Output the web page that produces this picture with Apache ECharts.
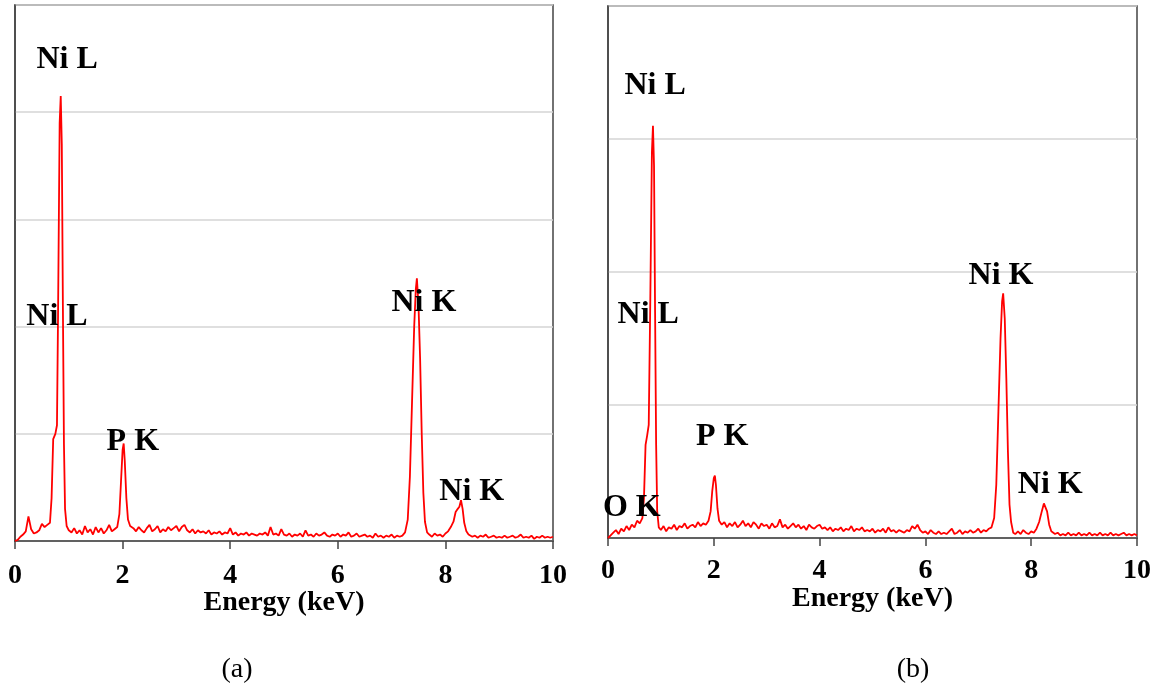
<!DOCTYPE html>
<html>
<head>
<meta charset="utf-8">
<title>EDS spectra</title>
<script src="https://cdn.jsdelivr.net/npm/echarts@6/dist/echarts.min.js"></script>
<style>
	html, body { margin: 0; padding: 0; background: #fff; }
	#chart { width: 1159px; height: 691px; }
</style>
</head>
<body>
<div id="chart"></div>
<script>
'use strict';
// x tick labels (keV)
var energyTicks = [0, 2, 4, 6, 8, 10];

// spectrum (a): [energy keV, counts in grid units]
var specA = [
	[0.00,0.00],[0.05,0.01],[0.10,0.04],[0.15,0.06],[0.20,0.09],[0.25,0.23],[0.30,0.11],[0.35,0.07],[0.40,0.08],[0.45,0.10],
	[0.50,0.16],[0.55,0.13],[0.60,0.15],[0.65,0.17],[0.68,0.40],[0.71,0.95],[0.75,1.00],[0.78,1.08],[0.80,2.10],[0.83,3.90],
	[0.85,4.15],[0.87,3.70],[0.89,2.20],[0.91,0.90],[0.93,0.30],[0.96,0.14],
	[1.00,0.10],[1.05,0.08],[1.10,0.12],[1.15,0.07],[1.20,0.10],[1.25,0.06],[1.30,0.14],[1.35,0.08],[1.40,0.11],[1.45,0.06],
	[1.50,0.13],[1.55,0.08],[1.60,0.12],[1.65,0.07],[1.70,0.10],[1.75,0.15],[1.80,0.09],[1.85,0.11],[1.90,0.13],[1.94,0.25],
	[1.97,0.55],[2.00,0.85],[2.02,0.91],[2.04,0.75],[2.07,0.40],[2.10,0.20],[2.14,0.14],
	[2.20,0.12],[2.25,0.09],[2.30,0.13],[2.35,0.10],[2.40,0.08],[2.45,0.12],[2.50,0.15],[2.55,0.09],[2.60,0.11],[2.65,0.14],
	[2.70,0.08],[2.75,0.11],[2.80,0.09],[2.85,0.13],[2.90,0.10],[2.95,0.12],[3.00,0.14],[3.05,0.09],[3.10,0.13],[3.15,0.15],
	[3.20,0.10],[3.25,0.08],[3.30,0.11],[3.35,0.07],[3.40,0.10],[3.45,0.08],[3.50,0.09],[3.55,0.07],[3.60,0.10],[3.65,0.06],
	[3.70,0.08],[3.75,0.07],[3.80,0.09],[3.85,0.06],[3.90,0.08],[3.95,0.07],[4.00,0.12],[4.05,0.06],[4.10,0.08],[4.15,0.05],
	[4.20,0.07],[4.25,0.06],[4.30,0.08],[4.35,0.05],[4.40,0.07],[4.45,0.06],[4.50,0.05],[4.55,0.07],[4.60,0.06],[4.65,0.08],
	[4.70,0.05],[4.75,0.13],[4.80,0.06],[4.85,0.07],[4.90,0.05],[4.95,0.11],[5.00,0.06],[5.05,0.05],[5.10,0.07],[5.15,0.04],
	[5.20,0.06],[5.25,0.05],[5.30,0.07],[5.35,0.04],[5.40,0.10],[5.45,0.05],[5.50,0.06],[5.55,0.04],[5.60,0.07],[5.65,0.05],
	[5.70,0.06],[5.75,0.08],[5.80,0.05],[5.85,0.04],[5.90,0.06],[5.95,0.05],[6.00,0.07],[6.05,0.04],[6.10,0.06],[6.15,0.05],
	[6.20,0.08],[6.25,0.04],[6.30,0.05],[6.35,0.07],[6.40,0.04],[6.45,0.05],[6.50,0.06],[6.55,0.04],[6.60,0.05],[6.65,0.03],
	[6.70,0.07],[6.75,0.04],[6.80,0.05],[6.85,0.03],[6.90,0.05],[6.95,0.04],[7.00,0.06],[7.05,0.03],[7.10,0.05],[7.15,0.04],
	[7.20,0.05],[7.25,0.08],[7.30,0.20],[7.34,0.60],[7.38,1.30],[7.42,2.00],[7.45,2.35],[7.47,2.45],[7.50,2.20],[7.53,1.70],
	[7.56,1.00],[7.59,0.45],[7.62,0.18],[7.66,0.08],[7.70,0.06],[7.75,0.04],[7.80,0.07],[7.85,0.05],[7.90,0.06],[7.95,0.04],
	[8.00,0.07],[8.05,0.09],[8.10,0.13],[8.15,0.18],[8.19,0.27],[8.23,0.30],[8.26,0.32],[8.29,0.38],[8.32,0.30],[8.35,0.17],
	[8.39,0.09],[8.43,0.06],[8.50,0.04],[8.55,0.05],[8.60,0.03],[8.65,0.05],[8.70,0.04],[8.75,0.06],[8.80,0.03],[8.85,0.04],
	[8.90,0.05],[8.95,0.03],[9.00,0.04],[9.05,0.03],[9.10,0.05],[9.15,0.03],[9.20,0.04],[9.25,0.05],[9.30,0.03],[9.35,0.04],
	[9.40,0.06],[9.45,0.03],[9.50,0.04],[9.55,0.03],[9.60,0.05],[9.65,0.02],[9.70,0.04],[9.75,0.03],[9.80,0.05],[9.85,0.03],
	[9.90,0.04],[9.95,0.03],[10.00,0.04]
];

// spectrum (b)
var specB = [
	[0.00,0.00],[0.05,0.02],[0.10,0.04],[0.15,0.06],[0.20,0.03],[0.25,0.07],[0.30,0.05],[0.35,0.09],[0.40,0.06],[0.45,0.10],
	[0.50,0.08],[0.55,0.13],[0.60,0.11],[0.65,0.15],[0.68,0.30],[0.71,0.70],[0.74,0.77],[0.77,0.85],[0.80,1.80],[0.83,2.90],
	[0.85,3.10],[0.87,2.80],[0.89,1.70],[0.91,0.70],[0.93,0.20],[0.96,0.08],
	[1.00,0.06],[1.05,0.09],[1.10,0.05],[1.15,0.08],[1.20,0.07],[1.25,0.10],[1.30,0.06],[1.35,0.09],[1.40,0.08],[1.45,0.11],
	[1.50,0.07],[1.55,0.09],[1.60,0.10],[1.65,0.08],[1.70,0.12],[1.75,0.09],[1.80,0.11],[1.85,0.10],[1.90,0.13],[1.94,0.20],
	[1.97,0.35],[2.00,0.45],[2.02,0.47],[2.04,0.40],[2.07,0.22],[2.10,0.13],[2.15,0.10],
	[2.20,0.12],[2.25,0.08],[2.30,0.11],[2.35,0.09],[2.40,0.12],[2.45,0.08],[2.50,0.10],[2.55,0.13],[2.60,0.09],[2.65,0.11],
	[2.70,0.08],[2.75,0.12],[2.80,0.10],[2.85,0.07],[2.90,0.11],[2.95,0.09],[3.00,0.10],[3.05,0.07],[3.10,0.11],[3.15,0.08],
	[3.20,0.09],[3.25,0.14],[3.30,0.08],[3.35,0.10],[3.40,0.07],[3.45,0.09],[3.50,0.11],[3.55,0.08],[3.60,0.10],[3.65,0.07],
	[3.70,0.09],[3.75,0.06],[3.80,0.10],[3.85,0.08],[3.90,0.07],[3.95,0.09],[4.00,0.10],[4.05,0.07],[4.10,0.08],[4.15,0.06],
	[4.20,0.08],[4.25,0.05],[4.30,0.07],[4.35,0.06],[4.40,0.08],[4.45,0.05],[4.50,0.07],[4.55,0.06],[4.60,0.09],[4.65,0.05],
	[4.70,0.07],[4.75,0.06],[4.80,0.08],[4.85,0.05],[4.90,0.06],[4.95,0.05],[5.00,0.07],[5.05,0.04],[5.10,0.06],[5.15,0.05],
	[5.20,0.07],[5.25,0.04],[5.30,0.08],[5.35,0.05],[5.40,0.06],[5.45,0.04],[5.50,0.06],[5.55,0.05],[5.60,0.04],[5.65,0.06],
	[5.70,0.05],[5.75,0.09],[5.80,0.07],[5.85,0.10],[5.90,0.06],[5.95,0.04],[6.00,0.05],[6.05,0.03],[6.10,0.06],[6.15,0.04],
	[6.20,0.03],[6.25,0.05],[6.30,0.03],[6.35,0.04],[6.40,0.03],[6.45,0.05],[6.50,0.07],[6.55,0.03],[6.60,0.04],[6.65,0.06],
	[6.70,0.03],[6.75,0.05],[6.80,0.04],[6.85,0.06],[6.90,0.04],[6.95,0.05],[7.00,0.07],[7.05,0.04],[7.10,0.06],[7.15,0.05],
	[7.20,0.07],[7.25,0.08],[7.30,0.15],[7.34,0.40],[7.38,0.95],[7.42,1.50],[7.45,1.78],[7.47,1.84],[7.50,1.65],[7.53,1.20],
	[7.56,0.65],[7.59,0.25],[7.62,0.12],[7.66,0.04],[7.70,0.03],[7.75,0.05],[7.80,0.03],[7.85,0.06],[7.90,0.04],[7.95,0.03],
	[8.00,0.05],[8.05,0.04],[8.10,0.07],[8.15,0.12],[8.20,0.20],[8.24,0.26],[8.27,0.25],[8.30,0.20],[8.34,0.10],[8.38,0.05],
	[8.45,0.03],[8.50,0.04],[8.55,0.02],[8.60,0.03],[8.65,0.02],[8.70,0.04],[8.75,0.02],[8.80,0.03],[8.85,0.02],[8.90,0.04],
	[8.95,0.02],[9.00,0.03],[9.05,0.02],[9.10,0.04],[9.15,0.02],[9.20,0.03],[9.25,0.02],[9.30,0.04],[9.35,0.02],[9.40,0.03],
	[9.45,0.02],[9.50,0.04],[9.55,0.02],[9.60,0.03],[9.65,0.02],[9.70,0.03],[9.75,0.04],[9.80,0.02],[9.85,0.03],[9.90,0.02],
	[9.95,0.03],[10.00,0.02]
];

// peak labels: [text, energy, height]
var labelsA = [
	['Ni L', 0.97, 4.49],
	['Ni L', 0.78, 2.09],
	['P K', 2.19, 0.93],
	['Ni K', 7.60, 2.22],
	['Ni K', 8.49, 0.46]
];
var labelsB = [
	['Ni L', 0.89, 3.40],
	['Ni L', 0.76, 1.68],
	['O K', 0.45, 0.23],
	['P K', 2.16, 0.76],
	['Ni K', 7.43, 1.97],
	['Ni K', 8.36, 0.40]
];
var captions = ['(a)', '(b)'];

var SERIF = '"Liberation Serif", "Times New Roman", serif';

function xAxisOf(gridIndex, gap, margin) {
	return {
		type: 'value',
		gridIndex: gridIndex,
		min: 0, max: 10, interval: 2,
		name: 'Energy (keV)',
		nameLocation: 'middle',
		nameGap: gap,
		nameMoveOverlap: false,
		nameTextStyle: { fontFamily: SERIF, fontWeight: 'bold', fontSize: 28, color: '#000' },
		axisLine: { lineStyle: { color: '#444', width: 1.5 } },
		axisTick: { show: true, length: 8, lineStyle: { color: '#444', width: 1.5 } },
		axisLabel: {
			fontFamily: SERIF, fontWeight: 'bold', fontSize: 28, color: '#000', margin: margin,
			formatter: function(v) { return energyTicks.indexOf(v) >= 0 ? String(v) : ''; }
		},
		splitLine: { show: false }
	};
}

function yAxisOf(gridIndex, max) {
	return {
		type: 'value',
		gridIndex: gridIndex,
		min: 0, max: max, interval: 1,
		axisLine: { show: true, lineStyle: { color: '#444', width: 1.5 } },
		axisTick: { show: false },
		axisLabel: { show: false },
		splitLine: { show: true, lineStyle: { color: '#d4d4d4', width: 1.5 } }
	};
}

function seriesOf(idx, data, labels) {
	return {
		type: 'line',
		xAxisIndex: idx,
		yAxisIndex: idx,
		data: data,
		showSymbol: false,
		symbol: 'none',
		lineStyle: { color: '#ff0000', width: 1.8 },
		markPoint: {
			symbol: 'rect',
			symbolSize: [1, 1],
			itemStyle: { color: 'rgba(0,0,0,0)' },
			label: {
				show: true,
				position: 'inside',
				fontFamily: SERIF, fontWeight: 'bold', fontSize: 32, color: '#000',
				formatter: function(p) { return p.name; }
			},
			data: labels.map(function(l) {
				return { name: l[0], coord: [l[1], l[2]] };
			})
		}
	};
}

var chart = echarts.init(document.getElementById('chart'));
chart.setOption({
	animation: false,
	backgroundColor: '#fff',
	grid: [
		{ left: 15, top: 5, width: 538, height: 536, show: true, borderColor: '#444', borderWidth: 1.5 },
		{ left: 608, top: 6, width: 529, height: 532, show: true, borderColor: '#444', borderWidth: 1.5 }
	],
	xAxis: [xAxisOf(0, 48, 21), xAxisOf(1, 47, 19)],
	yAxis: [yAxisOf(0, 5), yAxisOf(1, 4)],
	series: [seriesOf(0, specA, labelsA), seriesOf(1, specB, labelsB)],
	graphic: [
		{ type: 'text', x: 237, y: 670, style: { text: captions[0], font: '28px ' + SERIF, fill: '#000', align: 'center', verticalAlign: 'middle' } },
		{ type: 'text', x: 913, y: 670, style: { text: captions[1], font: '28px ' + SERIF, fill: '#000', align: 'center', verticalAlign: 'middle' } }
	]
});
</script>
</body>
</html>
